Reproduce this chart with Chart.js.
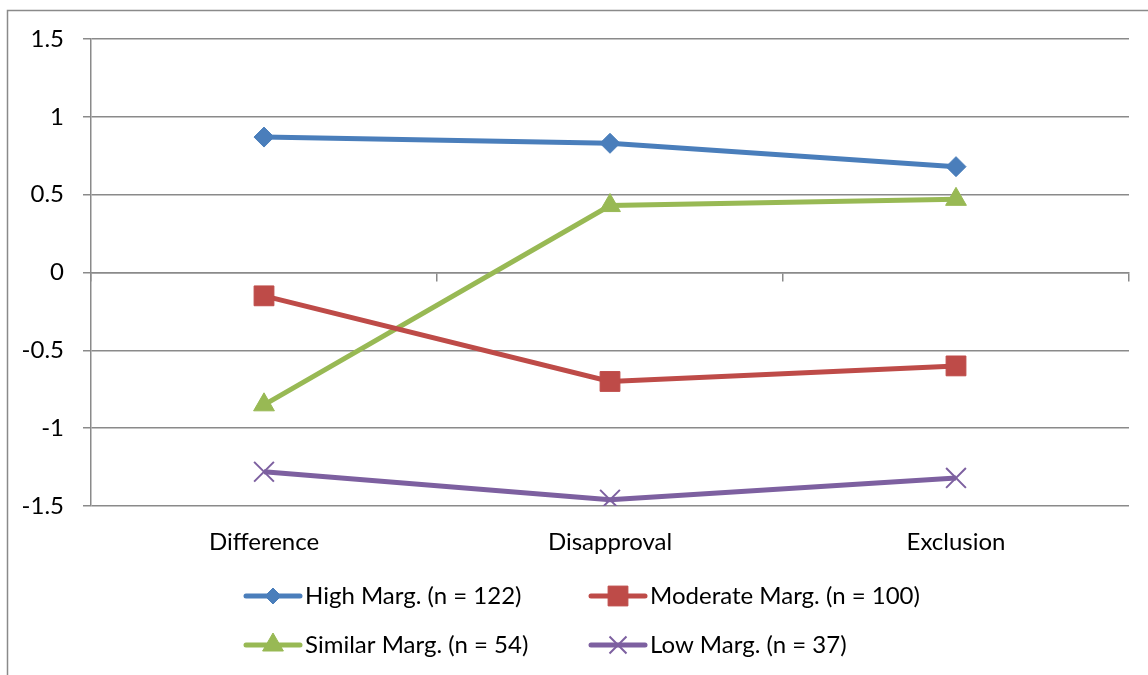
<!DOCTYPE html>
<html>
<head>
<meta charset="utf-8">
<script src="https://cdn.jsdelivr.net/npm/chart.js@4/dist/chart.umd.min.js"></script>
<style>
  html, body { margin: 0; padding: 0; background: #fff; }
  #wrap { width: 1148px; height: 675px; position: relative; }
</style>
</head>
<body>
<div id="wrap"><canvas id="c" width="1148" height="675"></canvas></div>
<script>
// Category and series data
const categories = ['Difference', 'Disapproval', 'Exclusion'];
const seriesNames = ['High Marg. (n = 122)', 'Moderate Marg. (n = 100)', 'Similar Marg. (n = 54)', 'Low Marg. (n = 37)'];
const highMarg = [0.87, 0.83, 0.68];
const moderateMarg = [-0.15, -0.70, -0.60];
const similarMarg = [-0.85, 0.43, 0.47];
const lowMarg = [-1.28, -1.46, -1.32];
const yTicks = [-1.5, -1, -0.5, 0, 0.5, 1, 1.5];
const yTickLabels = ['-1.5', '-1', '-0.5', '0', '0.5', '1', '1.5'];

// Styling
const GRID = '#8a8a8a';
const FONT = 'Lato, "Liberation Sans", sans-serif';
const FONT_SIZE = 24;
const colors = ['#4a7ebb', '#be4b48', '#98b954', '#7d60a0'];
const markers = ['rectRot', 'rect', 'triangle', 'crossRot'];
const markerRadius = [10, 14, 12, 14];
const markerBorder = [1, 1, 1, 2];
const legendRadius = [8, 14, 12, 12];
const legendSlots = [{ x: 244, y: 596 }, { x: 589, y: 596 }, { x: 244, y: 645 }, { x: 589, y: 645 }];

Chart.defaults.font.family = FONT;
Chart.defaults.font.size = FONT_SIZE;
Chart.defaults.color = '#000';

const seriesValues = [highMarg, moderateMarg, similarMarg, lowMarg];
const datasets = seriesValues.map((vals, i) => ({
  label: seriesNames[i],
  data: vals,
  borderColor: colors[i],
  backgroundColor: colors[i],
  borderWidth: 5,
  tension: 0,
  pointStyle: markers[i],
  pointRadius: markerRadius[i],
  pointHoverRadius: markerRadius[i],
  pointBorderWidth: markerBorder[i],
  pointBackgroundColor: colors[i],
  pointBorderColor: colors[i]
}));

// Outer frame of the chart object
const framePlugin = {
  id: 'frame',
  beforeDraw(chart) {
    const ctx = chart.ctx;
    ctx.save();
    ctx.fillStyle = '#fff';
    ctx.fillRect(0, 0, chart.width, chart.height);
    ctx.strokeStyle = GRID;
    ctx.lineWidth = 1.5;
    ctx.strokeRect(7.5, 10.5, chart.width + 50, chart.height + 50);
    ctx.restore();
  }
};

// Two-row legend with line + marker samples
const legendPlugin = {
  id: 'lineLegend',
  afterDraw(chart) {
    const ctx = chart.ctx;
    chart.data.datasets.forEach((ds, i) => {
      const s = legendSlots[i];
      ctx.save();
      ctx.strokeStyle = ds.borderColor;
      ctx.lineWidth = 5;
      ctx.lineCap = 'round';
      ctx.beginPath();
      ctx.moveTo(s.x + 2, s.y);
      ctx.lineTo(s.x + 56, s.y);
      ctx.stroke();
      ctx.fillStyle = ds.backgroundColor;
      ctx.lineWidth = markerBorder[i];
      ctx.lineCap = 'butt';
      Chart.helpers.drawPoint(ctx, {
        pointStyle: ds.pointStyle,
        radius: legendRadius[i],
        borderWidth: markerBorder[i],
        rotation: 0
      }, s.x + 29, s.y);
      ctx.fillStyle = '#000';
      ctx.font = FONT_SIZE + 'px ' + FONT;
      ctx.textBaseline = 'middle';
      ctx.textAlign = 'left';
      ctx.fillText(ds.label, s.x + 61, s.y);
      ctx.restore();
    });
  }
};

new Chart(document.getElementById('c'), {
  type: 'line',
  data: { labels: categories, datasets },
  plugins: [framePlugin, legendPlugin],
  options: {
    responsive: false,
    devicePixelRatio: 1,
    animation: false,
    layout: { padding: { left: 0, top: 39, right: 19, bottom: 0 } },
    plugins: { legend: { display: false }, tooltip: { enabled: false } },
    scales: {
      x: {
        type: 'category',
        offset: true,
        grid: { display: false },
        border: { display: false },
        ticks: { color: '#000', font: { size: FONT_SIZE }, padding: 14, maxRotation: 0 },
        afterFit(scale) { scale.height = 169; }
      },
      x2: {
        type: 'category',
        position: { y: 0 },
        offset: true,
        grid: { drawOnChartArea: false, color: GRID, lineWidth: 1.5, tickLength: 8, offset: true },
        border: { color: GRID, width: 1.5 },
        ticks: { display: false }
      },
      y: {
        min: -1.5,
        max: 1.5,
        afterBuildTicks(scale) { scale.ticks = yTicks.map(v => ({ value: v })); },
        ticks: {
          color: '#000',
          font: { size: FONT_SIZE },
          padding: 19,
          callback: (v, idx) => yTickLabels[idx]
        },
        grid: { color: GRID, lineWidth: 1.5, tickLength: 8 },
        border: { color: GRID, width: 1.5 },
        afterFit(scale) { scale.width = 91; }
      }
    }
  }
});
</script>
</body>
</html>
